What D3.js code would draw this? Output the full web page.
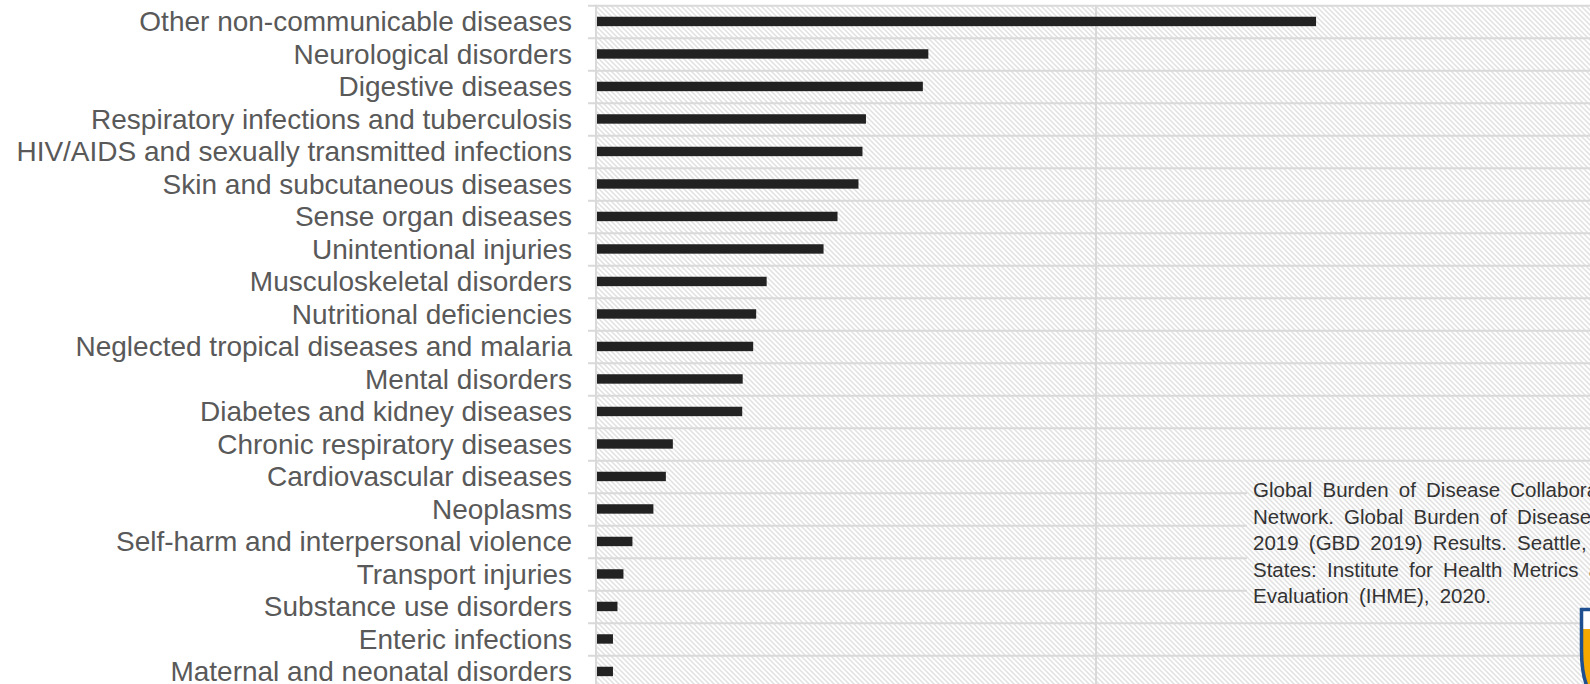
<!DOCTYPE html>
<html>
<head>
<meta charset="utf-8">
<script src="https://cdn.jsdelivr.net/npm/d3@7"></script>
<style>
  html, body { margin: 0; padding: 0; background: #fff; overflow: hidden; }
  svg { display: block; }
</style>
</head>
<body>
<svg id="chart" width="1590" height="684"></svg>
<script>
// Cause groups, top to bottom
const categories = [
  "Other non-communicable diseases",
  "Neurological disorders",
  "Digestive diseases",
  "Respiratory infections and tuberculosis",
  "HIV/AIDS and sexually transmitted infections",
  "Skin and subcutaneous diseases",
  "Sense organ diseases",
  "Unintentional injuries",
  "Musculoskeletal disorders",
  "Nutritional deficiencies",
  "Neglected tropical diseases and malaria",
  "Mental disorders",
  "Diabetes and kidney diseases",
  "Chronic respiratory diseases",
  "Cardiovascular diseases",
  "Neoplasms",
  "Self-harm and interpersonal violence",
  "Transport injuries",
  "Substance use disorders",
  "Enteric infections",
  "Maternal and neonatal disorders"
];

// Bar values, same order as categories
const values = [
  144.1, 66.4, 65.3, 53.9, 53.2, 52.4, 48.2, 45.4, 34.0, 31.9, 31.3,
  29.2, 29.1, 15.2, 13.8, 11.3, 7.1, 5.3, 4.1, 3.2, 3.2
];

// Vertical gridline positions on the value axis
const gridValues = [100, 200];

// Source note
const citationLines = [
  "Global Burden of Disease Collaborative",
  "Network. Global Burden of Disease Study",
  "2019 (GBD 2019) Results. Seattle, United",
  "States: Institute for Health Metrics and",
  "Evaluation (IHME), 2020."
];

const W = 1590, H = 684;
const svg = d3.select("#chart");

const x = d3.scaleLinear().domain([0, 200]).range([597, 1595]);
const y = d3.scaleBand()
  .domain(categories)
  .range([5.7, 688.2])
  .paddingInner(0.71)
  .paddingOuter(0.355);
const step = y.step();
const gap = step - y.bandwidth();

// Diagonal hatch used for the plot background
const defs = svg.append("defs");
const pat = defs.append("pattern")
  .attr("id", "hatch")
  .attr("patternUnits", "userSpaceOnUse")
  .attr("width", 5).attr("height", 5);
pat.append("rect").attr("width", 5).attr("height", 5).attr("fill", "#ffffff");
pat.append("path")
  .attr("d", "M-1,-1 L6,6 M-1,4 L1,6 M4,-1 L6,1")
  .attr("stroke", "#e1e1e1")
  .attr("stroke-width", 1.5)
  .attr("fill", "none");

const plotTop = y.range()[0];
const plotLeft = x(0) - 1;

svg.append("rect")
  .attr("x", plotLeft).attr("y", plotTop)
  .attr("width", W - plotLeft).attr("height", H - plotTop)
  .attr("fill", "url(#hatch)");

// Row boundaries (horizontal gridlines with short ticks to the left)
const boundaries = categories.map(c => y(c) - gap / 2);
boundaries.push(boundaries[boundaries.length - 1] + step);

const grid = svg.append("g").attr("class", "grid");
grid.selectAll("line.h")
  .data(boundaries)
  .join("line")
  .attr("class", "h")
  .attr("x1", plotLeft - 8).attr("x2", W)
  .attr("y1", d => d).attr("y2", d => d)
  .attr("stroke", "#d9d9d9")
  .attr("stroke-width", 2);

grid.selectAll("line.v")
  .data(gridValues)
  .join("line")
  .attr("class", "v")
  .attr("x1", d => x(d)).attr("x2", d => x(d))
  .attr("y1", plotTop).attr("y2", H)
  .attr("stroke", "#d9d9d9")
  .attr("stroke-width", 2);

// Category axis line
svg.append("line")
  .attr("x1", plotLeft).attr("x2", plotLeft)
  .attr("y1", plotTop - 1).attr("y2", H)
  .attr("stroke", "#d9d9d9")
  .attr("stroke-width", 2);

// Bars
svg.append("g").attr("class", "bars")
  .selectAll("rect")
  .data(categories.map((c, i) => ({ c, v: values[i] })))
  .join("rect")
  .attr("x", x(0))
  .attr("y", d => y(d.c) - 0.5)
  .attr("width", d => x(d.v) - x(0))
  .attr("height", y.bandwidth())
  .attr("fill", "#222222");

// Category labels
svg.append("g").attr("class", "labels")
  .selectAll("text")
  .data(categories)
  .join("text")
  .attr("x", 572)
  .attr("y", d => y(d) + y.bandwidth() / 2 - 0.5)
  .attr("dy", "0.35em")
  .attr("text-anchor", "end")
  .attr("font-family", "'Liberation Sans', Arial, sans-serif")
  .attr("font-size", 28)
  .attr("fill", "#595959")
  .text(d => d);

// Source note box (hatched fill hides the gridlines behind it)
svg.append("rect")
  .attr("x", 1247).attr("y", 476)
  .attr("width", W - 1247).attr("height", 136)
  .attr("fill", "url(#hatch)");

svg.append("g").attr("class", "citation")
  .selectAll("text")
  .data(citationLines)
  .join("text")
  .attr("x", 1253)
  .attr("y", (d, i) => 497 + i * 26.5)
  .attr("font-family", "'Liberation Sans', Arial, sans-serif")
  .attr("font-size", 20.5)
  .attr("word-spacing", "4.5px")
  .attr("fill", "#333333")
  .text(d => d);

// Shield emblem in the corner
const shield = "M1581.5,609.5 H1610 V700 H1595 C1586,690 1581.5,675 1581.5,650 Z";
defs.append("clipPath").attr("id", "shieldClip")
  .append("path").attr("d", shield);
const logo = svg.append("g").attr("class", "logo");
logo.append("path").attr("d", shield).attr("fill", "#ffffff");
logo.append("rect")
  .attr("x", 1575).attr("y", 629)
  .attr("width", 40).attr("height", 80)
  .attr("fill", "#f5a800")
  .attr("clip-path", "url(#shieldClip)");
logo.append("path").attr("d", shield)
  .attr("fill", "none")
  .attr("stroke", "#1d4f91")
  .attr("stroke-width", 3.5);
</script>
</body>
</html>
